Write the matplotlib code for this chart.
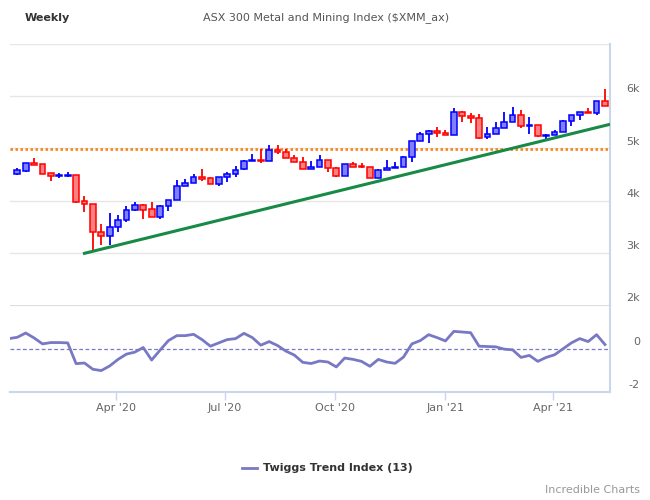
import numpy as np
import pandas as pd
import matplotlib
matplotlib.use('Agg')
import matplotlib.pyplot as plt
import matplotlib.dates as mdates
from matplotlib.patches import Rectangle
from matplotlib.lines import Line2D
from matplotlib.transforms import blended_transform_factory

# weekly bars (week ending Friday)
dates = pd.date_range('2020-01-10', periods=71, freq='7D')
opens = [4516, 4573, 4720, 4695, 4522, 4471, 4465, 4484, 3986, 3928,
         3392, 3315, 3488, 3622, 3813, 3909, 3833, 3679, 3890, 4005,
         4273, 4337, 4446, 4427, 4312, 4446, 4503, 4599, 4752, 4771,
         4752, 4969, 4925, 4810, 4733, 4599, 4637, 4771, 4618, 4465,
         4695, 4663, 4637, 4427, 4580, 4624, 4637, 4829, 5136, 5270,
         5327, 5289, 5251, 5691, 5615, 5576, 5212, 5270, 5385, 5500,
         5634, 5423, 5442, 5232, 5251, 5308, 5519, 5634, 5691, 5672,
         5902]
highs = [4618, 4720, 4810, 4700, 4525, 4529, 4548, 4490, 4088, 3935,
         3551, 3762, 3724, 3896, 3973, 3928, 3973, 3909, 4005, 4395,
         4414, 4510, 4605, 4446, 4452, 4548, 4663, 4771, 4893, 4982,
         5065, 5065, 4982, 4874, 4835, 4759, 4874, 4771, 4637, 4707,
         4733, 4714, 4637, 4599, 4778, 4746, 4848, 5136, 5308, 5347,
         5404, 5347, 5774, 5711, 5672, 5653, 5404, 5506, 5698, 5787,
         5730, 5596, 5442, 5270, 5347, 5538, 5634, 5691, 5768, 5902,
         6132]
lows = [4497, 4554, 4676, 4510, 4382, 4439, 4458, 3960, 3788, 3034,
        3155, 3155, 3405, 3583, 3801, 3654, 3679, 3654, 3807, 4005,
        4273, 4337, 4382, 4312, 4286, 4363, 4458, 4586, 4752, 4727,
        4752, 4886, 4810, 4733, 4599, 4599, 4637, 4541, 4446, 4465,
        4650, 4618, 4427, 4427, 4580, 4624, 4637, 4746, 5136, 5110,
        5225, 5251, 5251, 5513, 5481, 5187, 5174, 5270, 5385, 5500,
        5385, 5270, 5212, 5174, 5251, 5308, 5423, 5538, 5672, 5634,
        5806]
closes = [4580, 4714, 4688, 4516, 4465, 4484, 4497, 3979, 3928, 3392,
          3315, 3488, 3622, 3813, 3909, 3826, 3679, 3890, 4005, 4273,
          4337, 4446, 4420, 4312, 4452, 4503, 4580, 4752, 4771, 4752,
          4963, 4925, 4810, 4733, 4599, 4644, 4771, 4618, 4465, 4695,
          4650, 4637, 4427, 4580, 4624, 4644, 4829, 5136, 5270, 5327,
          5289, 5251, 5691, 5615, 5576, 5206, 5270, 5385, 5500, 5634,
          5423, 5442, 5232, 5251, 5308, 5519, 5634, 5691, 5672, 5902,
          5806]

# Twiggs Trend Index (13)
tti_dates = pd.date_range('2020-01-03', periods=72, freq='7D')
tti = [0.455, 0.515, 0.712, 0.485, 0.212, 0.273, 0.273, 0.258, -0.697, -0.667,
       -0.955, -1.015, -0.803, -0.5, -0.258, -0.167, 0.045, -0.530, -0.076, 0.364,
       0.591, 0.591, 0.652, 0.409, 0.106, 0.258, 0.409, 0.455, 0.697, 0.5,
       0.152, 0.318, 0.136, -0.121, -0.303, -0.636, -0.69, -0.576, -0.621, -0.848,
       -0.439, -0.5, -0.591, -0.818, -0.5, -0.621, -0.682, -0.394, 0.212, 0.364,
       0.636, 0.5, 0.348, 0.788, 0.758, 0.727, 0.106, 0.091, 0.076, -0.030,
       -0.061, -0.409, -0.318, -0.591, -0.409, -0.288, -0.015, 0.258, 0.455, 0.318,
       0.636, 0.182]

# trend line and support level
trend_dates = pd.to_datetime(['2020-03-06', '2021-05-17'])
trend_vals = [2990, 5455]
level = 4990

price_ticks = [6000, 5000, 4000, 3000, 2000]
price_labels = ['6k', '5k', '4k', '3k', '2k']
tti_ticks = [0, -2]
tti_labels = ['0', '-2']
xtick_dates = pd.to_datetime(['2020-04-01', '2020-07-01', '2020-10-01', '2021-01-01', '2021-04-01'])
xtick_labels = ["Apr '20", "Jul '20", "Oct '20", "Jan '21", "Apr '21"]

axis_col = '#ccd6eb'
grid_col = '#e6e6e6'
tti_col = '#7878c4'

fig = plt.figure(figsize=(6.5, 5), dpi=100)
W, H = 650., 500.
ax = fig.add_axes([10/W, 1-305/H, 600/W, 261/H])
ax2 = fig.add_axes([10/W, 1-392/H, 600/W, 87/H], sharex=ax)

x0 = mdates.date2num(pd.Timestamp('2020-01-10')) - 6.1
x1 = mdates.date2num(pd.Timestamp('2021-05-14')) + 4.2

# price panel
for g in [3000, 4000, 5000, 6000, 7000]:
    ax.axhline(g, color=grid_col, lw=1, zorder=0)
ax.axhline(level, color='#f7891f', lw=2, ls=(0, (0.9, 0.9)), zorder=2)
ax.plot(mdates.date2num(trend_dates), trend_vals, color='#178a45', lw=2.2, zorder=5)

xd = mdates.date2num(dates)
for xi, o, h, l, c in zip(xd, opens, highs, lows, closes):
    up = c >= o
    ec = '#0000ff' if up else '#ff0000'
    fc = '#8080ff' if up else '#ff8080'
    ax.vlines(xi, l, h, color=ec, lw=1.3, zorder=3)
    lo, hi = min(o, c), max(o, c)
    ax.add_patch(Rectangle((xi - 2.4, lo), 4.8, max(hi - lo, 12),
                           facecolor=fc, edgecolor=ec, lw=1.1, zorder=4))

ax.set_ylim(2000, 7000)
ax.set_xlim(x0, x1)
for s in ['top', 'left', 'bottom']:
    ax.spines[s].set_visible(False)
ax.spines['right'].set_color(axis_col)
ax.spines['right'].set_linewidth(1.5)
ax.set_yticks([])
ax.tick_params(axis='x', bottom=False, labelbottom=False)

# indicator panel
ax2.axhline(2, color='#dedede', lw=1.6, zorder=0)
ax2.axhline(0, color=tti_col, lw=0.9, ls=(0, (3, 2)), zorder=2)
ax2.plot(mdates.date2num(tti_dates), tti, color=tti_col, lw=2, zorder=3)
ax2.set_ylim(-2, 2)
ax2.set_xlim(x0, x1)
for s in ['top', 'left']:
    ax2.spines[s].set_visible(False)
for s in ['right', 'bottom']:
    ax2.spines[s].set_color(axis_col)
    ax2.spines[s].set_linewidth(1.5)
ax2.set_yticks([])
ax2.set_xticks(mdates.date2num(xtick_dates))
ax2.set_xticklabels(xtick_labels)
ax2.tick_params(axis='x', length=6, width=1, color=axis_col, labelcolor='#666666',
                labelsize=8, pad=2)

# right-side labels, sitting just above their lines
tr = blended_transform_factory(ax.transAxes, ax.transData)
for v, t in zip(price_ticks, price_labels):
    ax.text(630/600, v + 130, t, transform=tr, ha='right', va='center',
            fontsize=8, color='#666666', clip_on=False)
tr2 = blended_transform_factory(ax2.transAxes, ax2.transData)
for v, t in zip(tti_ticks, tti_labels):
    ax2.text(630/600, v + 0.3, t, transform=tr2, ha='right', va='center',
             fontsize=8, color='#666666', clip_on=False)

# titles
fig.text(25/W, 1-18/H, 'Weekly', fontsize=8, fontweight='bold', color='#333333',
         ha='left', va='center')
fig.text(326/W, 1-18/H, 'ASX 300 Metal and Mining Index ($XMM_ax)', fontsize=8,
         color='#555555', ha='center', va='center')

# legend
fig.add_artist(Line2D([242/W, 257/W], [1-468/H, 1-468/H], color=tti_col, lw=2))
fig.text(263/W, 1-468/H, 'Twiggs Trend Index (13)', fontsize=8, fontweight='bold',
         color='#333333', ha='left', va='center')
fig.text(640/W, 1-490/H, 'Incredible Charts', fontsize=8, color='#999999',
         ha='right', va='center')

plt.savefig('out.png', dpi=100)
